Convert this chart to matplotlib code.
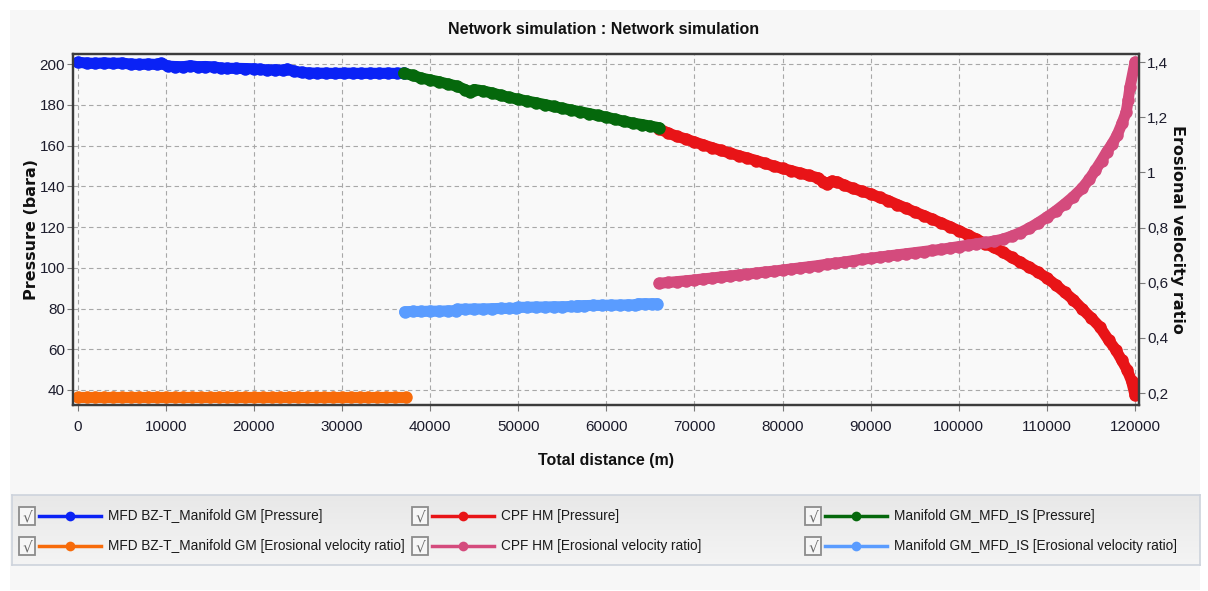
import numpy as np
import matplotlib
matplotlib.use("Agg")
import matplotlib.pyplot as plt
from matplotlib.patches import Rectangle

W, H = 1208, 591

# distance (m) and values per branch
mfd_x = [0, 1000, 2000, 3000, 4000, 5000, 6000, 7000, 8000, 9000, 9500, 10200,
         11000, 12000, 12800, 13600, 14500, 15500, 16300, 17000, 18000, 19000,
         20000, 20700, 21500, 22400, 23300, 23800, 24600, 25400, 26300, 27200,
         28200, 29200, 30200, 31200, 32200, 33200, 34200, 35200, 36200, 37000]
mfd_p = [201.0, 200.6, 200.4, 200.7, 200.4, 200.6, 200.1, 199.9, 200.1, 199.9, 200.5, 199.1,
         198.9, 198.8, 199.3, 198.8, 198.9, 198.7, 198.1, 198.0, 198.0, 197.9,
         197.8, 197.5, 197.2, 197.3, 197.1, 197.6, 196.6, 196.0, 195.7, 195.6,
         195.6, 195.5, 195.6, 195.6, 195.5, 195.6, 195.5, 195.6, 195.5, 195.6]
mfd_x_ev = [0, 1000, 2000, 3000, 4000, 5000, 6000, 7000, 8000, 9000, 10000, 11000,
            12000, 13000, 14000, 15000, 16000, 17000, 18000, 19000, 20000, 21000,
            22000, 23000, 24000, 25000, 26000, 27000, 28000, 29000, 30000, 31000,
            32000, 33000, 34000, 35000, 36000, 37300]
mfd_ev = [0.187, 0.187, 0.187, 0.187, 0.187, 0.187, 0.187, 0.187, 0.187, 0.187,
          0.187, 0.187, 0.187, 0.187, 0.187, 0.187, 0.187, 0.187, 0.187, 0.187,
          0.187, 0.187, 0.187, 0.187, 0.187, 0.187, 0.187, 0.187, 0.187, 0.187,
          0.187, 0.187, 0.187, 0.187, 0.187, 0.187, 0.187, 0.187]

man_x = [37000, 38000, 39000, 40000, 41000, 42000, 43000, 44000, 44500, 45000,
         46000, 47000, 48000, 49000, 50000, 51000, 52000, 53000, 54000, 55000,
         56000, 57000, 58000, 59000, 60000, 61000, 62000, 63000, 64000, 65000, 66000]
man_p = [195.6, 194.6, 193.2, 192.3, 191.4, 190.3, 189.3, 187.5, 186.4, 187.6,
         186.9, 185.9, 184.8, 183.7, 182.8, 181.9, 181.1, 180.2, 179.3, 178.4,
         177.5, 176.7, 175.8, 174.9, 174.0, 173.0, 172.0, 171.1, 170.4, 169.6, 168.8]
man_x_ev = [37100, 38000, 39000, 40000, 41000, 42000, 42900,
            43100, 44000, 45000, 46000, 47000, 48000, 49000, 49800,
            50000, 51000, 52000, 53000, 54000, 55000, 56000, 56600,
            56800, 57500, 58500, 59500, 60500, 61500, 62500, 63300,
            63600, 64400, 65200, 65800]
man_ev = [0.495, 0.496, 0.496, 0.497, 0.497, 0.498, 0.499,
          0.504, 0.504, 0.505, 0.505, 0.506, 0.507, 0.507, 0.508,
          0.511, 0.511, 0.512, 0.512, 0.513, 0.513, 0.514, 0.514,
          0.517, 0.517, 0.518, 0.518, 0.519, 0.519, 0.520, 0.520,
          0.524, 0.524, 0.524, 0.524]

cpf_x = [66000, 67000, 68000, 69000, 70000, 71000, 72000, 73000, 74000, 75000,
         76000, 77000, 78000, 79000, 80000, 81000, 82000, 83000, 84000, 84600,
         85000, 85600, 86200, 87000, 88000, 89000, 90000, 91000, 92000, 93000,
         94000, 95000, 96000, 97000, 98000, 99000, 100000, 101000, 102000, 103000,
         104000, 105000, 106000, 107000, 108000, 109000, 110000, 111000, 112000, 113000,
         114000, 115000, 116000, 117000, 117800, 118500, 119100, 119600, 120000]
cpf_p = [168.3, 166.2, 164.6, 163.3, 161.8, 160.4, 159.0, 157.7, 156.4, 155.1,
         153.9, 152.7, 151.3, 150.0, 148.8, 147.7, 146.5, 145.4, 144.2, 142.4,
         141.3, 142.6, 142.2, 140.6, 139.0, 137.6, 136.3, 134.6, 133.0, 131.1,
         129.3, 127.4, 125.7, 123.9, 122.0, 120.2, 118.2, 116.2, 114.1, 111.9,
         110.0, 107.7, 105.1, 102.7, 100.3, 97.8, 95.0, 91.6, 88.0, 84.3,
         79.8, 75.5, 71.0, 64.5, 59.8, 54.5, 49.8, 44.5, 37.5]
cpf_x_ev = [66000, 67000, 68000, 69000, 70000, 71000, 72000, 73000, 74000, 75000,
            76000, 77000, 78000, 79000, 80000, 81000, 82000, 83000, 84000, 85000,
            86000, 87000, 88000, 89000, 90000, 91000, 92000, 93000, 94000, 95000,
            96000, 97000, 98000, 99000, 100000, 101000, 102000, 103000, 104000, 105000,
            106000, 107000, 108000, 109000, 110000, 111000, 112000, 113000, 114000, 114800,
            115500, 116200, 116800, 117400, 117970, 118540, 119000, 119220, 119430, 120000]
cpf_ev = [0.598, 0.601, 0.604, 0.607, 0.610, 0.614, 0.617, 0.621, 0.624, 0.628,
          0.631, 0.635, 0.639, 0.642, 0.646, 0.650, 0.654, 0.658, 0.662, 0.667,
          0.671, 0.675, 0.680, 0.685, 0.689, 0.693, 0.697, 0.701, 0.705, 0.709,
          0.713, 0.717, 0.721, 0.726, 0.731, 0.736, 0.741, 0.746, 0.751, 0.758,
          0.769, 0.782, 0.798, 0.817, 0.838, 0.860, 0.885, 0.912, 0.943, 0.975,
          1.008, 1.043, 1.075, 1.103, 1.135, 1.179, 1.219, 1.262, 1.309, 1.400]

legend_labels = ["MFD BZ-T_Manifold GM [Pressure]",
                 "MFD BZ-T_Manifold GM [Erosional velocity ratio]",
                 "CPF HM [Pressure]",
                 "CPF HM [Erosional velocity ratio]",
                 "Manifold GM_MFD_IS [Pressure]",
                 "Manifold GM_MFD_IS [Erosional velocity ratio]"]
colors = ["#0a22f5", "#f76b0a", "#e81417", "#d44b7d", "#05680c", "#5a9cff"]

x_ticks = [0, 10000, 20000, 30000, 40000, 50000, 60000, 70000, 80000, 90000,
           100000, 110000, 120000]
p_ticks = [40, 60, 80, 100, 120, 140, 160, 180, 200]
ev_ticks = [0.2, 0.4, 0.6, 0.8, 1.0, 1.2, 1.4]
ev_tick_labels = ["0,2", "0,4", "0,6", "0,8", "1", "1,2", "1,4"]

narrow = ["Liberation Sans", "DejaVu Sans"]
txt_col = "#1c1c2c"

fig = plt.figure(figsize=(W / 100, H / 100), dpi=100, facecolor="white")
fig.patches.append(Rectangle((10 / W, 1 - 590 / H), 1190 / W, 580 / H,
                             transform=fig.transFigure, facecolor="#f7f7f7",
                             edgecolor="none", zorder=-10))

# main axes in pixel layout
l, r, t, b = 73.3, 1139, 54.3, 405
ax = fig.add_axes([l / W, 1 - b / H, (r - l) / W, (b - t) / H])
ax.set_facecolor("#f9f9f9")
ax2 = ax.twinx()

style = dict(marker="o", markersize=9, markeredgewidth=0, linewidth=8,
             solid_capstyle="round", solid_joinstyle="round")
ax.plot(mfd_x, mfd_p, color=colors[0], **style)
ax2.plot(mfd_x_ev, mfd_ev, color=colors[1], **style)
ax.plot(cpf_x, cpf_p, color=colors[2], **style)
ax2.plot(cpf_x_ev, cpf_ev, color=colors[3], **style)
ax.plot(man_x, man_p, color=colors[4], **style)
ax2.plot(man_x_ev, man_ev, color=colors[5], **style)

ax.set_xlim(-500, 120450)
ax.set_ylim(32.6, 204.9)
ax2.set_ylim(0.157, 1.428)

ax.set_xticks(x_ticks)
ax.set_xticklabels([str(v) for v in x_ticks])
ax.set_yticks(p_ticks)
ax2.set_yticks(ev_ticks)
ax2.set_yticklabels(ev_tick_labels)

ax.grid(True, color="#a8a8a8", linestyle=(0, (4, 3)), linewidth=0.8)
ax.set_axisbelow(True)

for a in (ax, ax2):
    for s in a.spines.values():
        s.set_color("#3c3c3c")
        s.set_linewidth(1.6)
    a.tick_params(length=4, width=0.8, color="#7a7a7a", labelsize=11,
                  labelcolor=txt_col, pad=2)
    for lab in a.get_xticklabels() + a.get_yticklabels():
        lab.set_family(narrow)
ax.tick_params(axis="x", pad=7)

fig.text(0.5, 1 - 30 / H, "Network simulation : Network simulation",
         ha="center", va="center", fontsize=11.5, fontweight="bold",
         family=narrow, color="#111111")
fig.text(606 / W, 1 - 460 / H, "Total distance (m)", ha="center", va="center",
         fontsize=11.5, fontweight="bold", family=narrow, color="#111111")
fig.text(32 / W, 1 - 230 / H, "Pressure (bara)", ha="center", va="center",
         rotation=90, fontsize=11.5, fontweight="bold", family="DejaVu Sans",
         color="#111111")
fig.text(1177 / W, 1 - 229 / H, "Erosional velocity ratio", ha="center",
         va="center", rotation=270, fontsize=11.5, fontweight="bold",
         family="DejaVu Sans", color="#111111")

# legend panel with check boxes
lax = fig.add_axes([12 / W, 1 - 565 / H, 1188 / W, 70 / H])
lax.set_xlim(12, 1200)
lax.set_ylim(565, 495)
grad = np.linspace(0, 1, 64).reshape(-1, 1)
lax.imshow(grad, extent=[12, 1200, 565, 495], aspect="auto",
           cmap=matplotlib.colors.LinearSegmentedColormap.from_list(
               "lg", ["#e8e8e8", "#f4f4f4"]), zorder=0)
lax.set_xticks([])
lax.set_yticks([])
for s in lax.spines.values():
    s.set_color("#cdd3dc")
    s.set_linewidth(1.2)

col_x = [19, 412, 805]
row_y = [516, 546]
for i, label in enumerate(legend_labels):
    x0 = col_x[i // 2]
    y0 = row_y[i % 2]
    lax.add_patch(Rectangle((x0, y0 - 9), 16, 18, facecolor="#f6f6f6",
                            edgecolor="#8c8c8c", linewidth=1.3, zorder=2))
    lax.text(x0 + 8, y0 + 1, "\u221a", ha="center", va="center", fontsize=11,
             color="#6b6b6b", family="DejaVu Sans", zorder=3)
    lax.plot([x0 + 20, x0 + 82], [y0, y0], color=colors[i], linewidth=2.5,
             zorder=2)
    lax.plot([x0 + 51], [y0], marker="o", markersize=7, markeredgewidth=0,
             color=colors[i], zorder=3)
    lax.text(x0 + 89, y0, label, ha="left", va="center", fontsize=9.8,
             family=narrow, color="#1a1a1a", zorder=3)

fig.savefig("out.png", dpi=100, facecolor=fig.get_facecolor())
